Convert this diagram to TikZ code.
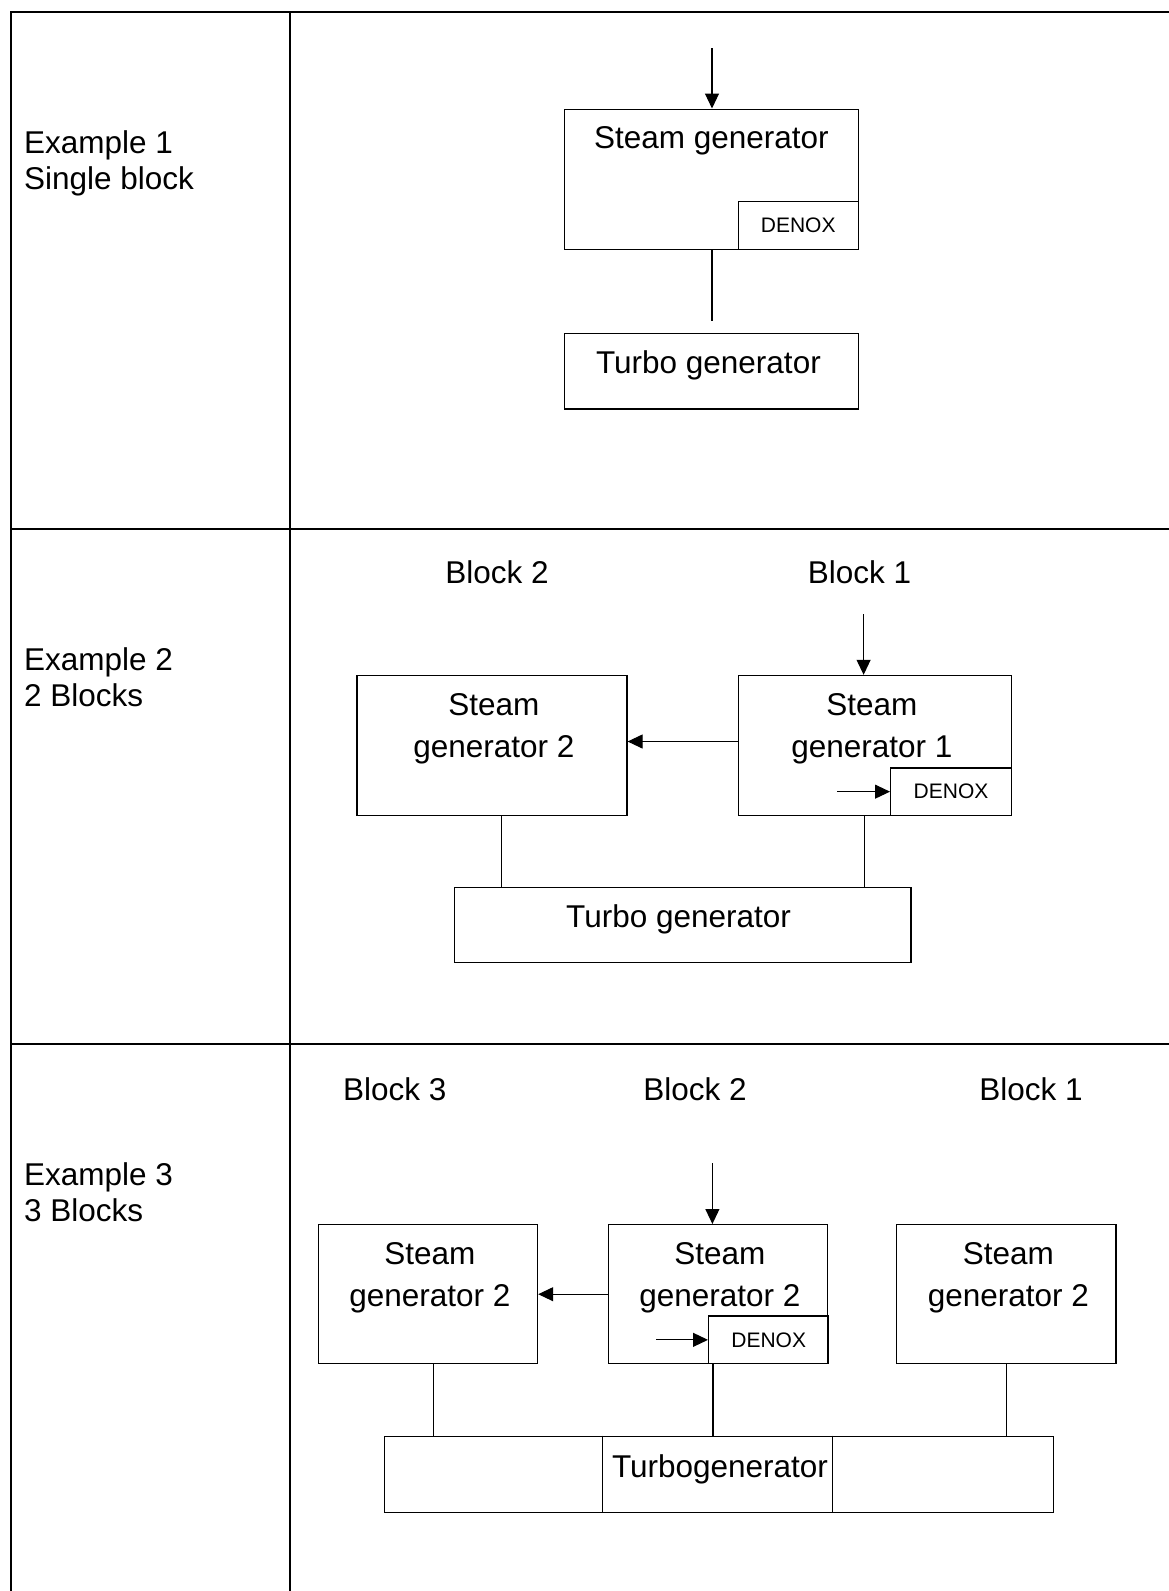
\documentclass[tikz,border=0pt]{standalone}
\usepackage{fontspec}
\setmainfont{Liberation Sans}
\usetikzlibrary{arrows.meta}
\begin{document}
\begin{tikzpicture}[x=1pt,y=-1pt,
  grid/.style={line width=2pt},
  box/.style={draw,line width=1.4pt,inner sep=0pt,anchor=north west},
  denox/.style={draw,line width=1.4pt,inner sep=0pt,anchor=south east,minimum width=120pt,minimum height=48pt,font=\fontsize{21}{24}\selectfont},
  lbl/.style={inner sep=0pt,anchor=north,align=center,font=\fontsize{31.5}{42}\selectfont},
  side/.style={inner sep=0pt,anchor=north west,align=left,font=\fontsize{31.5}{36}\selectfont},
  blk/.style={inner sep=0pt,font=\fontsize{31.5}{36}\selectfont},
  conn/.style={line width=1.1pt},
  flow/.style={line width=1.1pt,-{Triangle[length=15pt,width=14pt]}},
]
\useasboundingbox (0,0) rectangle (1169,1591);
% table grid
\draw[grid] (11,1591) -- (11,12) -- (1169,12);
\draw[grid] (290,12) -- (290,1591);
\draw[grid] (11,528.7) -- (1169,528.7);
\draw[grid] (11,1044.2) -- (1169,1044.2);
% side labels
\node[side] (ex1) at (24,130.8) {Example 1\\Single block};
\node[side] (ex2) at (24,647.2) {Example 2\\2 Blocks};
\node[side] (ex3) at (24,1162.6) {Example 3\\3 Blocks};

% ---------- Example 1
\node[box,minimum width=293.5pt,minimum height=140.5pt] (s1) at (564,108.5) {};
\node[denox] (d1) at (s1.south east) {DENOX};
\node[box,minimum width=293.5pt,minimum height=75.6pt] (t1) at (564,332.7) {};
\node[lbl] (s1t) at ([yshift=-18pt]s1.north) {Steam generator};
\node[lbl] (t1t) at ([xshift=-3pt,yshift=-18pt]t1.north) {Turbo generator};
\coordinate (in1) at (712,48);
\coordinate (e1) at (712,321);
\draw[flow] (in1) -- (in1 |- s1.north);
\draw[conn] (e1 |- s1.south) -- (e1);

% ---------- Example 2
\node[blk] (b2l) at (497,572.3) {Block 2};
\node[blk] (b2r) at (859.5,572.3) {Block 1};
\node[box,minimum width=270pt,minimum height=140pt] (s2a) at (356.2,674.8) {};
\node[box,minimum width=273pt,minimum height=140pt] (s2b) at (737.7,674.8) {};
\node[denox,minimum width=120.7pt,minimum height=47.7pt] (d2) at (s2b.south east) {DENOX};
\node[box,minimum width=456.6pt,minimum height=75pt] (t2) at (453.6,886.9) {};
\node[lbl] (s2at) at ([xshift=2pt,yshift=-18pt]s2a.north) {Steam\\generator 2};
\node[lbl] (s2bt) at ([xshift=-3pt,yshift=-18pt]s2b.north) {Steam\\generator 1};
\node[lbl] (t2t) at ([xshift=-4pt,yshift=-18pt]t2.north) {Turbo generator};
\coordinate (in2) at (863.6,614);
\draw[flow] (in2) -- (in2 |- s2b.north);
\draw[flow] ([yshift=4pt]s2b.west) coordinate (a2) -- (a2 -| s2a.east);
\draw[flow] ([xshift=-53pt]d2.west) -- (d2.west);
\draw[conn] ([xshift=9.2pt]s2a.south) coordinate (l2a) -- (l2a |- t2.north);
\draw[conn] ([xshift=-10.6pt]s2b.south) coordinate (l2b) -- (l2b |- t2.north);

% ---------- Example 3
\node[blk] (b3a) at (394.7,1088.9) {Block 3};
\node[blk] (b3b) at (695.1,1088.9) {Block 2};
\node[blk] (b3c) at (1031,1088.9) {Block 1};
\node[box,minimum width=219.2pt,minimum height=139pt] (s3a) at (317.6,1224) {};
\node[box,minimum width=218.5pt,minimum height=139pt] (s3b) at (608,1224) {};
\node[box,minimum width=219.2pt,minimum height=139pt] (s3c) at (896,1224) {};
\node[denox,minimum width=120pt,minimum height=47.7pt] (d3) at ([xshift=1.5pt]s3b.south east) {DENOX};
\node[box,minimum width=668.5pt,minimum height=76pt] (t3) at (384,1435.7) {};
\draw[line width=1pt] ([xshift=218.5pt]t3.north west) -- ([xshift=218.5pt]t3.south west);
\draw[line width=1pt] ([xshift=448pt]t3.north west) -- ([xshift=448pt]t3.south west);
\node[lbl] (s3at) at ([xshift=2pt,yshift=-18pt]s3a.north) {Steam\\generator 2};
\node[lbl] (s3bt) at ([xshift=2pt,yshift=-18pt]s3b.north) {Steam\\generator 2};
\node[lbl] (s3ct) at ([xshift=2pt,yshift=-18pt]s3c.north) {Steam\\generator 2};
\node[lbl] (t3t) at (720,1454) {Turbogenerator};
\coordinate (in3) at (712.4,1163);
\draw[flow] (in3) -- (in3 |- s3b.north);
\draw[flow] (s3b.west) -- (s3a.east);
\draw[flow] ([xshift=-52pt]d3.west) -- (d3.west);
\draw[conn] ([xshift=5.8pt]s3a.south) coordinate (l3a) -- (l3a |- t3.north);
\draw[conn] ([xshift=-5pt]s3b.south) coordinate (l3b) -- (l3b |- t3.north);
\draw[conn] ([xshift=0.4pt]s3c.south) coordinate (l3c) -- (l3c |- t3.north);
\end{tikzpicture}
\end{document}
